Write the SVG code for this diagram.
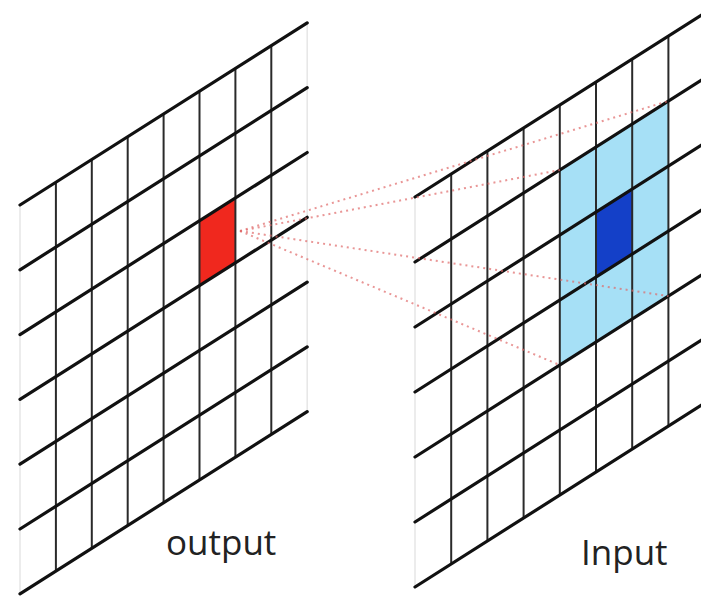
<svg xmlns="http://www.w3.org/2000/svg" width="701" height="597" viewBox="0 0 701 597">
<style>
.h{stroke:#111;stroke-width:3.2;stroke-linecap:round;fill:none}
.v{stroke:#2a2a2a;stroke-width:2;fill:none}
.e{stroke:#e6e6e6;stroke-width:1.5;fill:none}
.d{stroke:#e06a6a;stroke-width:2;stroke-dasharray:2 4;fill:none;opacity:0.7}
.t{font-family:"Open Sans","Noto Sans","Liberation Sans",sans-serif;font-size:35px;fill:#222}
</style>
<rect width="701" height="597" fill="#ffffff"/>
<g id="output">
<polygon points="199.5,220.8 235.4,198 235.4,262.8 199.5,285.6" fill="#f0281e"/>
<line class="e" x1="20" y1="205" x2="20" y2="593.8"/>
<line class="e" x1="307.2" y1="22.9" x2="307.2" y2="411.7"/>
<line class="v" x1="55.9" y1="182.2" x2="55.9" y2="571"/>
<line class="v" x1="91.8" y1="159.5" x2="91.8" y2="548.3"/>
<line class="v" x1="127.7" y1="136.7" x2="127.7" y2="525.5"/>
<line class="v" x1="163.6" y1="114" x2="163.6" y2="502.8"/>
<line class="v" x1="199.5" y1="91.2" x2="199.5" y2="480"/>
<line class="v" x1="235.4" y1="68.4" x2="235.4" y2="457.2"/>
<line class="v" x1="271.3" y1="45.7" x2="271.3" y2="434.5"/>
<line class="h" x1="20" y1="205" x2="307.2" y2="22.9"/>
<line class="h" x1="20" y1="269.8" x2="307.2" y2="87.7"/>
<line class="h" x1="20" y1="334.6" x2="307.2" y2="152.5"/>
<line class="h" x1="20" y1="399.4" x2="307.2" y2="217.3"/>
<line class="h" x1="20" y1="464.2" x2="307.2" y2="282.1"/>
<line class="h" x1="20" y1="529" x2="307.2" y2="346.9"/>
<line class="h" x1="20" y1="593.8" x2="307.2" y2="411.7"/>
<text class="t" x="166" y="555">output</text>
</g>
<g id="input">
<polygon points="559.8,170.05 668.4,101.1 668.4,296.1 559.8,365.05" fill="#a6e0f6"/>
<polygon points="596,212.1 632.2,189.1 632.2,254.1 596,277.1" fill="#1440c8"/>
<line class="e" x1="415" y1="197" x2="415" y2="587"/>
<line class="v" x1="451.2" y1="174" x2="451.2" y2="564"/>
<line class="v" x1="487.4" y1="151" x2="487.4" y2="541"/>
<line class="v" x1="523.6" y1="128" x2="523.6" y2="518"/>
<line class="v" x1="559.8" y1="105" x2="559.8" y2="495"/>
<line class="v" x1="596" y1="82" x2="596" y2="472"/>
<line class="v" x1="632.2" y1="59.1" x2="632.2" y2="449.1"/>
<line class="v" x1="668.4" y1="36.1" x2="668.4" y2="426.1"/>
<line class="h" x1="415" y1="197" x2="704.6" y2="13.1"/>
<line class="h" x1="415" y1="262" x2="704.6" y2="78.1"/>
<line class="h" x1="415" y1="327" x2="704.6" y2="143.1"/>
<line class="h" x1="415" y1="392" x2="704.6" y2="208.1"/>
<line class="h" x1="415" y1="457" x2="704.6" y2="273.1"/>
<line class="h" x1="415" y1="522" x2="704.6" y2="338.1"/>
<line class="h" x1="415" y1="587" x2="704.6" y2="403.1"/>
<text class="t" x="581" y="565">Input</text>
</g>
<g id="connectors">
<line class="d" x1="240" y1="231" x2="668.4" y2="101.1"/>
<line class="d" x1="240" y1="231" x2="559.8" y2="170.05"/>
<line class="d" x1="240" y1="231" x2="668.4" y2="296.1"/>
<line class="d" x1="240" y1="231" x2="559.8" y2="365.05"/>
</g>
</svg>
